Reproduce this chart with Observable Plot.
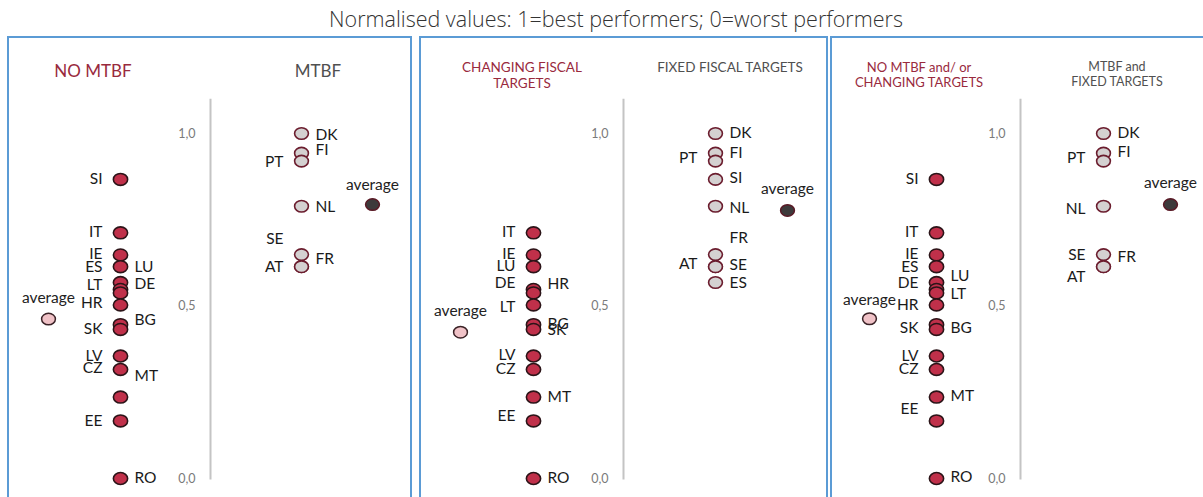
<!DOCTYPE html>
<html><head><meta charset="utf-8">
<script src="https://cdn.jsdelivr.net/npm/d3@7"></script>
<script src="https://cdn.jsdelivr.net/npm/@observablehq/plot@0.6"></script>
<style>
body{margin:0;width:1203px;height:497px;overflow:hidden;background:#fff;font-family:Lato,"Open Sans",sans-serif;position:relative}
#title{position:absolute;left:0;width:1232px;top:4px;text-align:center;font-size:21.5px;color:#333;font-family:"Open Sans",Lato,sans-serif;font-weight:300;white-space:nowrap}
.panel{position:absolute;top:36px;height:470px;border:2px solid #5B9BD5;box-sizing:border-box;overflow:hidden}
.panel svg{position:absolute;left:0;top:0}
.hdr{position:absolute;text-align:center;white-space:nowrap;transform:translate(-50%,-50%);font-family:Lato,sans-serif}
.red{color:#992A3D}.gray{color:#505050}
</style></head><body>
<div id="title">Normalised values: 1=best performers; 0=worst performers</div>
<div id="p1" class="panel" style="left:7px;width:405px"></div>
<div id="p2" class="panel" style="left:419px;width:409px"></div>
<div id="p3" class="panel" style="left:830px;width:400px"></div>
<div class="hdr red" style="left:93px;top:70px;font-size:17px">NO MTBF</div>
<div class="hdr gray" style="left:318px;top:70px;font-size:17px">MTBF</div>
<div class="hdr red" style="left:522px;top:75px;font-size:13.5px;line-height:16px">CHANGING FISCAL<br>TARGETS</div>
<div class="hdr gray" style="left:730px;top:67px;font-size:13.5px">FIXED FISCAL TARGETS</div>
<div class="hdr red" style="left:919px;top:75px;font-size:13px;line-height:15px">NO MTBF and/ or<br>CHANGING TARGETS</div>
<div class="hdr gray" style="left:1117px;top:74px;font-size:12.5px;line-height:15px">MTBF and<br>FIXED TARGETS</div>
<script>
// ---- data ----
const countries = ["SI","IT","IE","LU","ES","DE","HR","LT","BG","SK","LV","CZ","MT","EE","RO","DK","FI","PT","NL","SE","FR","AT"];
const scores    = [0.867,0.712,0.648,0.614,0.568,0.548,0.538,0.503,0.446,0.432,0.355,0.316,0.236,0.167,0.0,1.0,0.943,0.920,0.789,0.649,0.614,0.614];
const hasMTBF   = [false,false,false,false,false,false,false,false,false,false,false,false,false,false,false,true,true,true,true,true,true,true];
const fixedTargets = [true,false,false,false,true,false,false,false,false,false,false,false,false,false,false,true,true,true,true,true,true,true];
const averagesLeft  = [0.462, 0.424, 0.463];
const averagesRight = [0.794, 0.777, 0.794];
const tickValues = [0, 0.5, 1];
const tickLabels = ["0,0", "0,5", "1,0"];

const labels1 = [
  {code:"SI",at:.867,side:"L",col:"left"},{code:"IT",at:.713,side:"L",col:"left"},{code:"IE",at:.652,side:"L",col:"left"},
  {code:"ES",at:.613,side:"L",col:"left"},{code:"LU",at:.612,side:"R",col:"left"},{code:"LT",at:.562,side:"L",col:"left"},
  {code:"DE",at:.565,side:"R",col:"left"},{code:"HR",at:.510,side:"L",col:"left"},{code:"BG",at:.458,side:"R",col:"left"},
  {code:"SK",at:.432,side:"L",col:"left"},{code:"LV",at:.354,side:"L",col:"left"},{code:"CZ",at:.319,side:"L",col:"left"},
  {code:"MT",at:.296,side:"R",col:"left"},{code:"EE",at:.168,side:"L",col:"left"},{code:"RO",at:0,side:"R",col:"left"},
  {code:"average",at:.522,side:"C",col:"avgL"},
  {code:"DK",at:.997,side:"R",col:"right"},{code:"FI",at:.951,side:"R",col:"right"},{code:"PT",at:.916,side:"L",col:"right"},
  {code:"NL",at:.788,side:"R",col:"right"},{code:"SE",at:.693,side:"L",col:"right"},{code:"FR",at:.635,side:"R",col:"right"},
  {code:"AT",at:.612,side:"L",col:"right"},{code:"average",at:.852,side:"C",col:"avgR"}
];
const labels2 = [
  {code:"IT",at:.713,side:"L",col:"left"},{code:"IE",at:.652,side:"L",col:"left"},{code:"LU",at:.617,side:"L",col:"left"},
  {code:"DE",at:.568,side:"L",col:"left"},{code:"HR",at:.565,side:"R",col:"left"},{code:"LT",at:.496,side:"L",col:"left"},
  {code:"BG",at:.449,side:"R",col:"left"},{code:"SK",at:.429,side:"R",col:"left"},{code:"LV",at:.357,side:"L",col:"left"},
  {code:"CZ",at:.316,side:"L",col:"left"},{code:"MT",at:.235,side:"R",col:"left"},{code:"EE",at:.180,side:"L",col:"left"},
  {code:"RO",at:0,side:"R",col:"left"},{code:"average",at:.484,side:"C",col:"avgL"},
  {code:"DK",at:1.0,side:"R",col:"right"},{code:"FI",at:.942,side:"R",col:"right"},{code:"PT",at:.930,side:"L",col:"right"},
  {code:"SI",at:.872,side:"R",col:"right"},{code:"NL",at:.783,side:"R",col:"right"},{code:"FR",at:.696,side:"R",col:"right"},
  {code:"AT",at:.623,side:"L",col:"right"},{code:"SE",at:.620,side:"R",col:"right"},{code:"ES",at:.568,side:"R",col:"right"},
  {code:"average",at:.838,side:"C",col:"avgR"}
];
const labels3 = [
  {code:"SI",at:.867,side:"L",col:"left"},{code:"IT",at:.713,side:"L",col:"left"},{code:"IE",at:.652,side:"L",col:"left"},
  {code:"ES",at:.612,side:"L",col:"left"},{code:"LU",at:.586,side:"R",col:"left"},{code:"DE",at:.568,side:"L",col:"left"},
  {code:"LT",at:.536,side:"R",col:"left"},{code:"HR",at:.504,side:"L",col:"left"},{code:"SK",at:.435,side:"L",col:"left"},
  {code:"BG",at:.435,side:"R",col:"left"},{code:"LV",at:.354,side:"L",col:"left"},{code:"CZ",at:.316,side:"L",col:"left"},
  {code:"MT",at:.238,side:"R",col:"left"},{code:"EE",at:.200,side:"L",col:"left"},{code:"RO",at:.003,side:"R",col:"left"},
  {code:"average",at:.516,side:"C",col:"avgL"},
  {code:"DK",at:1.0,side:"R",col:"right"},{code:"FI",at:.945,side:"R",col:"right"},{code:"PT",at:.928,side:"L",col:"right"},
  {code:"NL",at:.780,side:"L",col:"right"},{code:"SE",at:.649,side:"L",col:"right"},{code:"FR",at:.643,side:"R",col:"right"},
  {code:"AT",at:.583,side:"L",col:"right"},{code:"average",at:.855,side:"C",col:"avgR"}
];

// ---- layout ----
const panels = [
  {id:"p1", width:401, cols:{avgL:39,left:111,axis:201,right:292,avgR:363}, isRight:i=>hasMTBF[i], labels:labels1},
  {id:"p2", width:405, cols:{avgL:39,left:112,axis:202,right:294,avgR:366}, isRight:i=>fixedTargets[i], labels:labels2},
  {id:"p3", width:396, cols:{avgL:37,left:104,axis:188,right:271,avgR:338}, isRight:i=>hasMTBF[i] && fixedTargets[i], labels:labels3}
];

const ellipse = {draw(ctx, size){
  const r = Math.sqrt(size/Math.PI), rx = r*1.08, ry = r*0.9, k = 0.5523;
  ctx.moveTo(rx,0);
  ctx.bezierCurveTo(rx,k*ry,k*rx,ry,0,ry);
  ctx.bezierCurveTo(-k*rx,ry,-rx,k*ry,-rx,0);
  ctx.bezierCurveTo(-rx,-k*ry,-k*rx,-ry,0,-ry);
  ctx.bezierCurveTo(k*rx,-ry,rx,-k*ry,rx,0);
  ctx.closePath();
}};

panels.forEach((p, pi) => {
  const rows = countries.map((c,i)=>({c, v:scores[i], right:p.isRight(i)}));
  const C = p.cols;
  const L = p.labels;
  const chart = Plot.plot({
    width:p.width, height:459, margin:0,
    x:{domain:[0,p.width], range:[0,p.width], axis:null},
    y:{domain:[0,1], range:[440,95], axis:null},
    style:{fontFamily:"Lato, sans-serif", background:"transparent"},
    marks:[
      Plot.ruleX([C.axis], {x:d=>d, y1:-0.004, y2:1.099, stroke:"#c4c4c4", strokeWidth:2}),
      Plot.text(tickValues, {x:()=>C.axis, y:d=>d, text:(d,i)=>tickLabels[i], dx:-15, textAnchor:"end", fill:"#7a7a7a", fontSize:12.5}),
      Plot.dot(rows.filter(d=>!d.right), {x:()=>C.left, y:"v", r:6.6, symbol:ellipse, fill:"#C0304A", stroke:"#2b1418", strokeWidth:1.6}),
      Plot.dot(rows.filter(d=>d.right), {x:()=>C.right, y:"v", r:6.4, symbol:ellipse, fill:"#D4D1D1", stroke:"#6B1D2E", strokeWidth:1.6}),
      Plot.dot([averagesLeft[pi]], {x:()=>C.avgL, y:d=>d, r:6.4, symbol:ellipse, fill:"#F0C2C7", stroke:"#3a2226", strokeWidth:1.5}),
      Plot.dot([averagesRight[pi]], {x:()=>C.avgR, y:d=>d, r:6.4, symbol:ellipse, fill:"#3D3A3B", stroke:"#5a1a26", strokeWidth:1.5}),
      Plot.text(L.filter(d=>d.side==="L"), {x:d=>C[d.col], y:"at", text:"code", dx:-18, textAnchor:"end", fill:"#1a1a1a", fontSize:15.5}),
      Plot.text(L.filter(d=>d.side==="R"), {x:d=>C[d.col], y:"at", text:"code", dx:14, textAnchor:"start", fill:"#1a1a1a", fontSize:15.5}),
      Plot.text(L.filter(d=>d.side==="C"), {x:d=>C[d.col], y:"at", text:"code", textAnchor:"middle", fill:"#222", fontSize:15.5})
    ]
  });
  document.getElementById(p.id).appendChild(chart);
});
</script>
</body></html>
